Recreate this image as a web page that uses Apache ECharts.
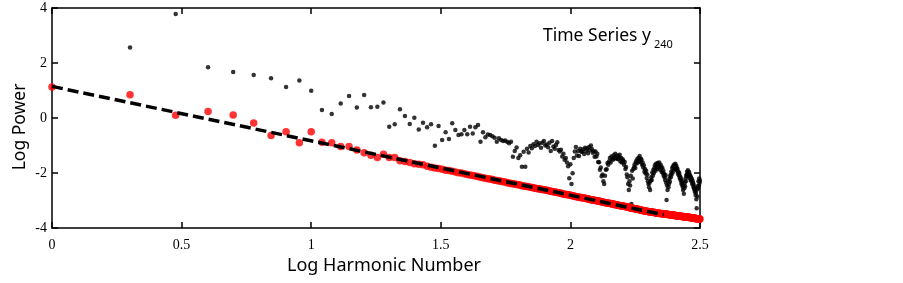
<!DOCTYPE html>
<html>
<head>
<meta charset="utf-8">
<script src="https://cdn.jsdelivr.net/npm/echarts@6/dist/echarts.min.js"></script>
<style>
  html, body { margin: 0; padding: 0; background: #fff; }
  #chart { width: 903px; height: 283px; }
</style>
</head>
<body>
<div id="chart"></div>
<script>
// 对数功率谱: 谐波 n = 1..316, x = log10(n)

// 黑点: 原始序列的功率 (n=1 被遮住, 为 null)
var blackPower = [
  null, 2.56, 3.78, 1.85, 1.67, 1.56, 1.45, 1.13, 1.36, 0.99,
  0.29, 0.15, 0.53, 0.80, 0.38, 0.84, 0.39, 0.41, 0.56, -0.32,
  -0.23, 0.32, 0.07, -0.22, 0.01, -0.42, -0.17, -0.34, -0.23, -1.01,
  -0.29, -0.80, -0.52, -0.76, -0.19, -0.44, -0.62, -0.59, -0.44, -0.59,
  -0.32, -0.56, -0.34, -0.25, -0.86, -0.52, -0.70, -0.60, -0.62, -0.66,
  -0.72, -0.86, -0.74, -0.80, -0.84, -0.82, -0.86, -0.92, -0.86, -1.41,
  -1.20, -1.07, -1.45, -1.35, -1.77, -1.23, -1.77, -1.12, -1.25, -1.02,
  -1.10, -0.95, -1.02, -0.86, -0.98, -0.92, -1.08, -0.90, -0.84, -1.00,
  -0.96, -1.06, -0.90, -1.20, -0.84, -1.04, -1.12, -0.98, -0.88, -1.16,
  -1.22, -1.15, -1.40, -1.30, -1.52, -1.45, -1.62, -1.75, -2.19, -1.68,
  -2.40, -2.01, -1.45, -1.22, -1.05, -1.36, -1.20, -1.38, -1.12, -1.22,
  -1.23, -1.14, -1.31, -1.08, -1.19, -1.11, -1.28, -1.05, -1.17, -1.00,
  -1.13, -1.26, -1.21, -1.41, -1.22, -1.40, -1.30, -1.60, -1.61, -1.88,
  -1.80, -2.12, -2.05, -2.30, -2.40, -2.10, -1.88, -1.86, -1.64, -1.70,
  -1.58, -1.45, -1.62, -1.40, -1.48, -1.52, -1.35, -1.46, -1.30, -1.44,
  -1.48, -1.36, -1.50, -1.42, -1.34, -1.58, -1.45, -1.62, -1.50, -1.55,
  -1.70, -1.60, -1.85, -1.78, -2.05, -2.15, -2.40, -2.62, -2.30, -2.45,
  -2.10, -3.13, -1.92, -2.20, -1.85, -1.78, -1.68, -1.82, -1.58, -1.65,
  -1.50, -1.62, -1.45, -1.55, -1.38, -1.60, -1.48, -1.52, -1.70, -1.62,
  -1.80, -1.72, -1.95, -1.85, -2.02, -1.92, -2.18, -2.05, -2.30, -2.40,
  -2.52, -2.35, -2.62, -2.28, -2.15, -2.25, -1.98, -2.10, -1.88, -2.00,
  -1.82, -1.72, -1.92, -1.66, -1.76, -1.85, -1.64, -1.78, -1.70, -1.62,
  -1.75, -1.88, -1.70, -1.82, -1.95, -1.80, -2.00, -1.90, -2.10, -2.02,
  -2.15, -2.25, -2.08, -2.35, -2.98, -2.45, -2.62, -2.30, -2.52, -2.40,
  -2.20, -2.32, -2.08, -2.15, -1.95, -2.05, -1.82, -1.98, -1.75, -1.86,
  -1.70, -1.82, -1.76, -1.66, -1.88, -1.74, -1.80, -1.92, -1.85, -2.02,
  -1.95, -2.08, -2.00, -2.18, -2.12, -2.25, -2.20, -2.35, -2.42, -2.30,
  -2.50, -2.62, -2.45, -2.75, -2.55, -2.35, -2.48, -2.20, -2.30, -2.10,
  -2.05, -1.95, -2.12, -1.90, -2.02, -2.08, -1.96, -2.18, -2.05, -2.12,
  -2.25, -2.15, -2.30, -2.22, -2.40, -2.28, -2.35, -2.50, -2.42, -2.58,
  -2.52, -2.68, -2.62, -2.80, -2.72, -2.95, -3.28, -2.60, -2.85, -2.48,
  -2.55, -2.30, -2.45, -2.20, -2.35, -2.28
]

// 红点: 处理后序列的功率
var redPower = [
  1.13, 0.85, 0.10, 0.24, 0.11, -0.18, -0.64, -0.50, -0.90, -0.50,
  -0.88, -0.90, -1.04, -1.04, -1.16, -1.26, -1.35, -1.44, -1.32, -1.44,
  -1.44, -1.55, -1.58, -1.62, -1.66, -1.68, -1.70, -1.75, -1.79, -1.82,
  -1.84, -1.86, -1.90, -1.91, -1.94, -1.96, -1.99, -2.00, -2.03, -2.05,
  -2.07, -2.09, -2.11, -2.13, -2.15, -2.17, -2.19, -2.21, -2.22, -2.24,
  -2.26, -2.27, -2.29, -2.30, -2.32, -2.33, -2.35, -2.36, -2.38, -2.39,
  -2.40, -2.42, -2.43, -2.44, -2.46, -2.47, -2.48, -2.49, -2.50, -2.52,
  -2.53, -2.54, -2.55, -2.56, -2.57, -2.58, -2.59, -2.60, -2.61, -2.62,
  -2.63, -2.64, -2.65, -2.66, -2.67, -2.68, -2.69, -2.70, -2.71, -2.72,
  -2.73, -2.74, -2.75, -2.76, -2.77, -2.78, -2.78, -2.79, -2.80, -2.81,
  -2.82, -2.83, -2.84, -2.85, -2.85, -2.86, -2.87, -2.88, -2.89, -2.89,
  -2.90, -2.91, -2.91, -2.92, -2.93, -2.94, -2.94, -2.95, -2.96, -2.97,
  -2.97, -2.98, -2.99, -2.99, -3.00, -3.01, -3.01, -3.02, -3.03, -3.03,
  -3.04, -3.05, -3.05, -3.06, -3.07, -3.07, -3.08, -3.08, -3.09, -3.10,
  -3.10, -3.11, -3.11, -3.12, -3.13, -3.13, -3.14, -3.14, -3.15, -3.15,
  -3.16, -3.16, -3.17, -3.18, -3.18, -3.19, -3.19, -3.20, -3.20, -3.21,
  -3.21, -3.22, -3.22, -3.23, -3.23, -3.24, -3.24, -3.25, -3.25, -3.26,
  -3.27, -3.27, -3.28, -3.28, -3.29, -3.29, -3.30, -3.30, -3.31, -3.31,
  -3.32, -3.32, -3.33, -3.33, -3.34, -3.34, -3.35, -3.35, -3.36, -3.36,
  -3.36, -3.37, -3.37, -3.38, -3.38, -3.39, -3.39, -3.40, -3.40, -3.40,
  -3.41, -3.41, -3.41, -3.42, -3.42, -3.42, -3.43, -3.43, -3.43, -3.44,
  -3.44, -3.44, -3.45, -3.45, -3.45, -3.45, -3.46, -3.46, -3.46, -3.46,
  -3.47, -3.47, -3.47, -3.47, -3.48, -3.48, -3.48, -3.48, -3.49, -3.49,
  -3.49, -3.49, -3.50, -3.50, -3.50, -3.50, -3.51, -3.51, -3.51, -3.51,
  -3.52, -3.52, -3.52, -3.52, -3.52, -3.53, -3.53, -3.53, -3.53, -3.54,
  -3.54, -3.54, -3.54, -3.55, -3.55, -3.55, -3.55, -3.55, -3.56, -3.56,
  -3.56, -3.56, -3.57, -3.57, -3.57, -3.57, -3.57, -3.58, -3.58, -3.58,
  -3.58, -3.58, -3.59, -3.59, -3.59, -3.59, -3.60, -3.60, -3.60, -3.60,
  -3.60, -3.61, -3.61, -3.61, -3.61, -3.61, -3.62, -3.62, -3.62, -3.62,
  -3.62, -3.63, -3.63, -3.63, -3.63, -3.63, -3.64, -3.64, -3.64, -3.64,
  -3.64, -3.65, -3.65, -3.65, -3.65, -3.65, -3.66, -3.66, -3.66, -3.66,
  -3.66, -3.67, -3.67, -3.67, -3.67, -3.67
]

// 拟合直线的两端 (虚线)
var fitLineX = [0, 2.36]
var fitLineY = [1.15, -3.52]

// 坐标轴刻度
var xTicks = { min: 0, max: 2.5, interval: 0.5 }
var yTicks = { min: -4, max: 4, interval: 2 }

function toPoints (values) {
  var pts = []
  values.forEach(function (v, i) {
    if (v !== null) pts.push([Math.log10(i + 1), v])
  })
  return pts
}

var myChart = echarts.init(document.getElementById('chart'))

var serifLabel = { color: '#000', fontFamily: 'Liberation Serif', fontSize: 14 }
var sansName = { color: '#000', fontFamily: 'Noto Sans', fontSize: 18 }
var axisLine = { onZero: false, lineStyle: { color: '#000', width: 1.5 } }
var tickIn = { inside: true, length: 6, lineStyle: { color: '#000', width: 1.5 } }

var option = {
  animation: false,
  backgroundColor: '#fff',
  grid: { left: 52, right: 203, top: 8, bottom: 55 },
  xAxis: [{
    type: 'value',
    min: xTicks.min,
    max: xTicks.max,
    interval: xTicks.interval,
    name: 'Log Harmonic Number',
    nameLocation: 'middle',
    nameGap: 27,
    nameTextStyle: Object.assign({}, sansName, { padding: [0, 0, 0, 16] }),
    axisLine: axisLine,
    axisTick: tickIn,
    axisLabel: Object.assign({ margin: 10 }, serifLabel),
    splitLine: { show: false }
  }, {
    type: 'value',
    position: 'top',
    min: xTicks.min,
    max: xTicks.max,
    interval: xTicks.interval,
    axisLine: axisLine,
    axisTick: tickIn,
    axisLabel: { show: false },
    splitLine: { show: false }
  }],
  yAxis: [{
    type: 'value',
    min: yTicks.min,
    max: yTicks.max,
    interval: yTicks.interval,
    axisLine: axisLine,
    axisTick: tickIn,
    axisLabel: Object.assign({ margin: 5 }, serifLabel),
    splitLine: { show: false }
  }, {
    type: 'value',
    position: 'right',
    min: yTicks.min,
    max: yTicks.max,
    interval: yTicks.interval,
    axisLine: axisLine,
    axisTick: tickIn,
    axisLabel: { show: false },
    splitLine: { show: false }
  }],
  graphic: [{
    // 纵轴标题
    type: 'text',
    x: 20,
    y: 127,
    rotation: Math.PI / 2,
    style: {
      text: 'Log Power',
      fill: '#000',
      font: '17.5px "Noto Sans"',
      align: 'center',
      verticalAlign: 'middle'
    }
  }, {
    type: 'text',
    left: 543,
    top: 27,
    style: { text: 'Time Series y', fill: '#000', font: '17.5px "Noto Sans"' }
  }, {
    type: 'text',
    left: 654,
    top: 39,
    style: { text: '240', fill: '#000', font: '11px "Noto Sans"' }
  }],
  series: [{
    type: 'scatter',
    data: toPoints(blackPower),
    symbolSize: 4.5,
    itemStyle: { color: '#000' },
    z: 2
  }, {
    type: 'scatter',
    data: toPoints(redPower),
    symbolSize: 7.5,
    itemStyle: { color: '#ff0000' },
    clip: true,
    z: 3
  }, {
    type: 'line',
    data: fitLineX.map(function (x, i) { return [x, fitLineY[i]] }),
    symbol: 'none',
    lineStyle: { color: '#000', width: 3.5, type: [11, 5] },
    z: 4
  }]
}
myChart.setOption(option)
</script>
</body>
</html>
